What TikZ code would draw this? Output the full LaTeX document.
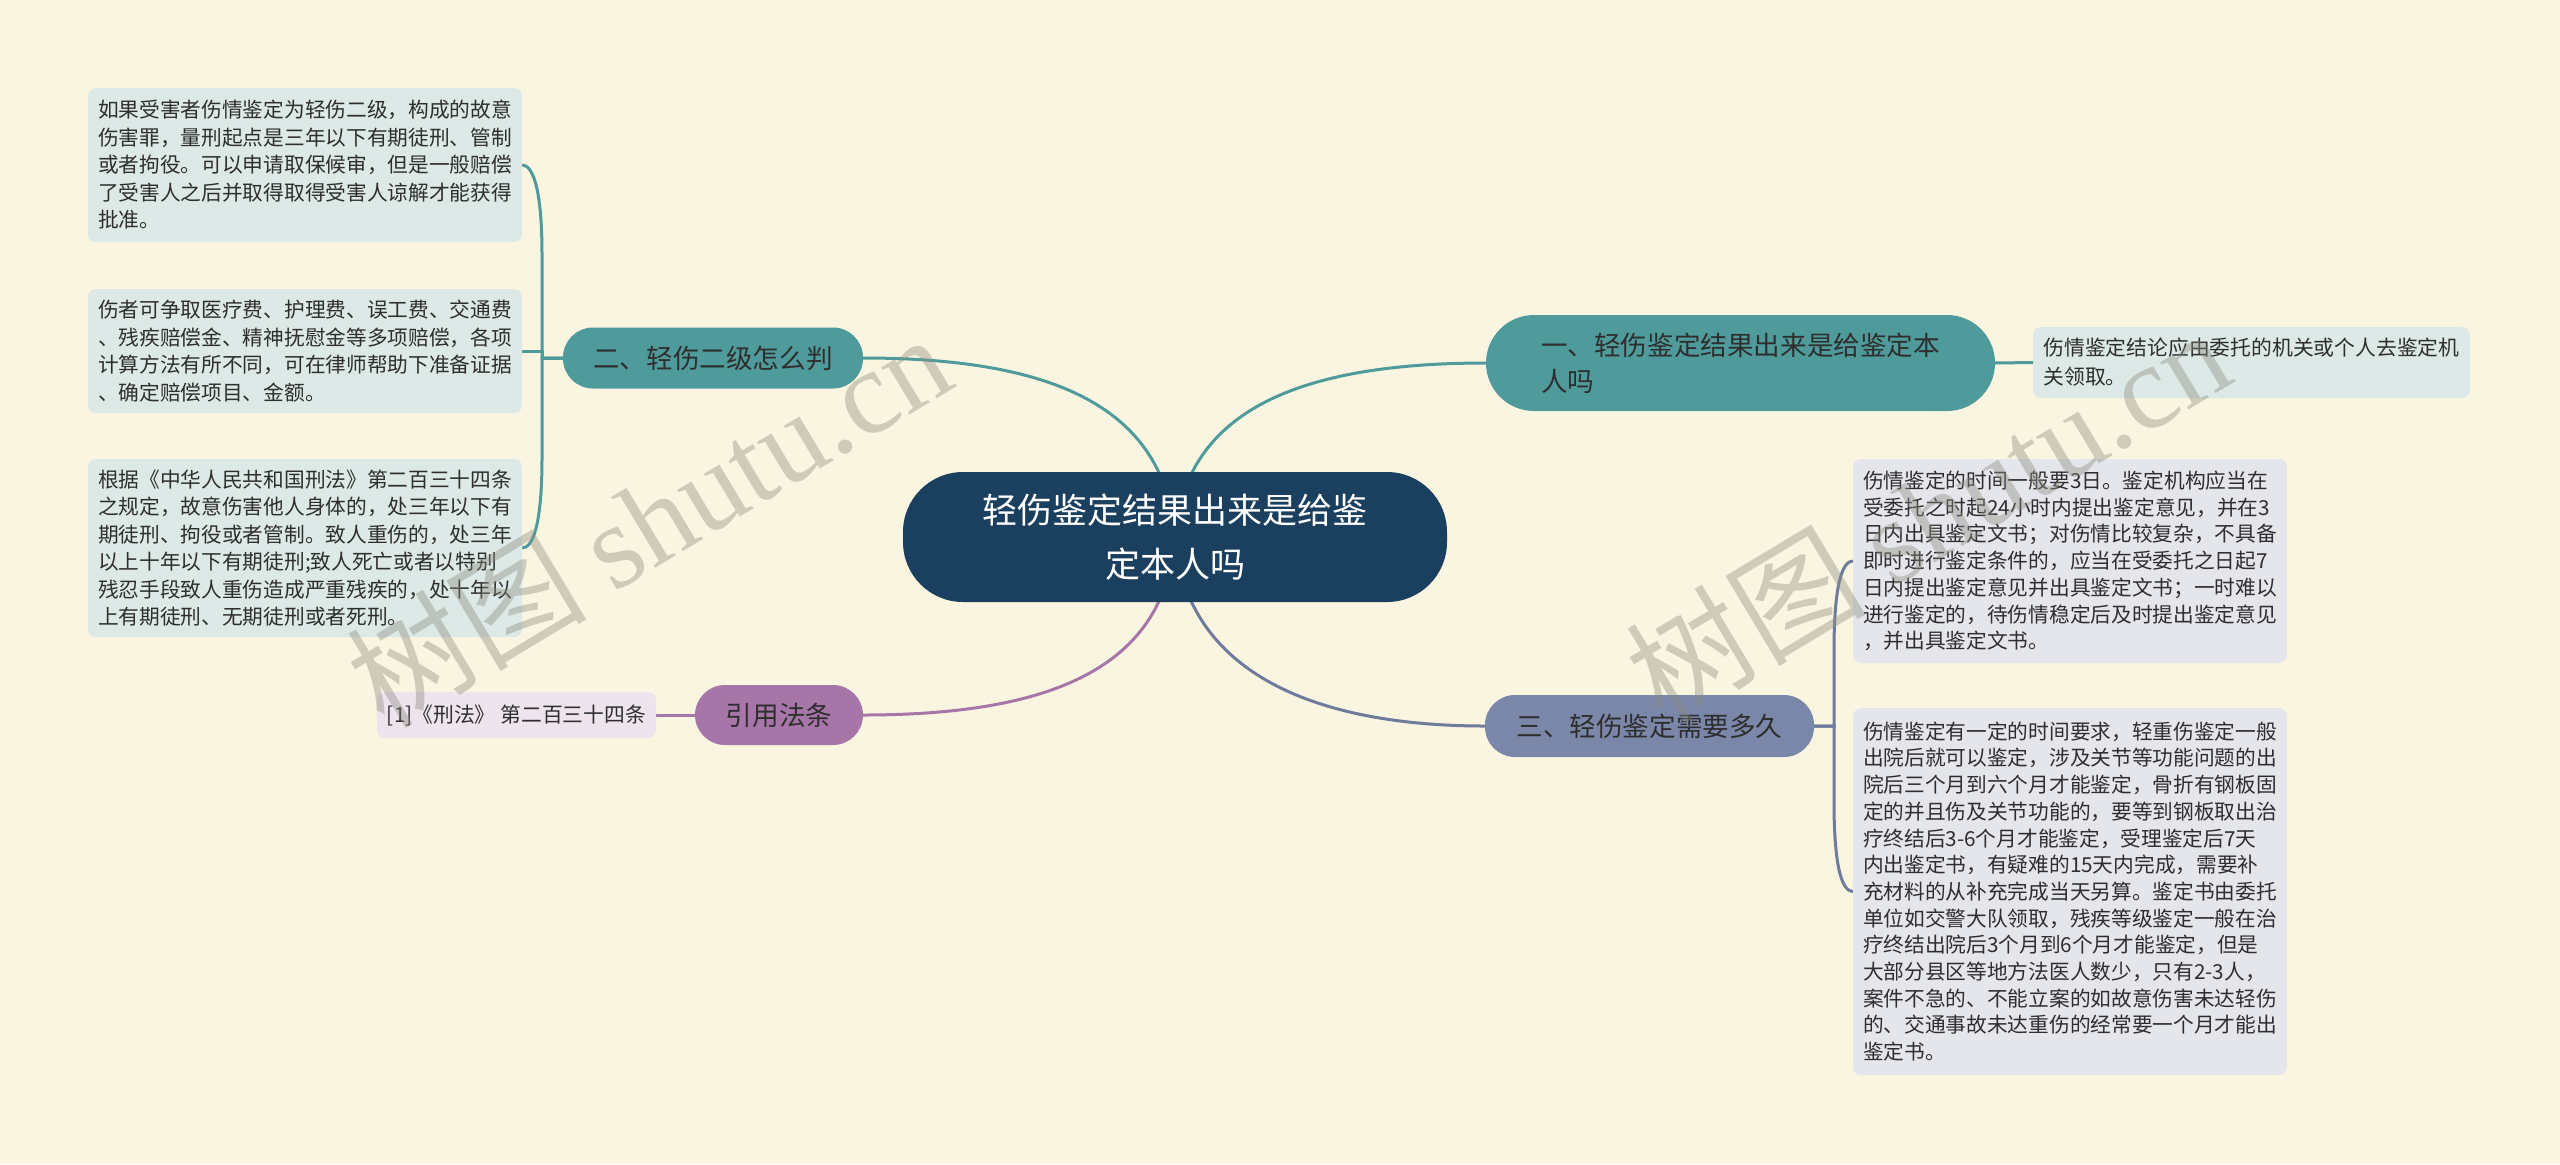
\documentclass[tikz,border=0pt]{standalone}
\usepackage{fontspec}
\setmainfont{Noto Sans CJK SC}
\newfontfamily\wmlatin{Liberation Serif}
\usetikzlibrary{calc}
\definecolor{bgc}{HTML}{FAF5E1}
\definecolor{cnavy}{HTML}{1B3F5E}
\definecolor{cteal}{HTML}{4F9B9B}
\definecolor{cslate}{HTML}{7A87A8}
\definecolor{eslate}{HTML}{6E7B9B}
\definecolor{cpurple}{HTML}{A776A8}
\definecolor{lteal}{HTML}{DCE9E6}
\definecolor{lslate}{HTML}{E4E6EC}
\definecolor{lpurple}{HTML}{EEE4EE}
\definecolor{txtdark}{HTML}{2E2E2E}
\definecolor{wmgray}{HTML}{8C8C80}
\pgfdeclarelayer{bg}
\pgfsetlayers{bg,main}
\begin{document}
\begin{tikzpicture}[x=0.5pt,y=-0.5pt,
  every node/.style={inner sep=0pt, outer sep=0pt},
  leafbox/.style={rounded corners=4pt, inner xsep=5pt, inner ysep=0pt, text width=207pt, align=left, text=txtdark, font=\fontsize{10.35pt}{13.75pt}\selectfont},
  leafteal/.style={leafbox, fill=lteal},
  leafslate/.style={leafbox, fill=lslate, font=\fontsize{10.35pt}{13.35pt}\selectfont},
  branchbox/.style={rounded corners=15pt, text=txtdark, align=left, font=\fontsize{13.3pt}{18pt}\selectfont},
  centerbox/.style={fill=cnavy, rounded corners=30pt, text=white, align=center, font=\fontsize{17.5pt}{27pt}\selectfont},
  tealline/.style={draw=cteal, line width=1.5pt},
  slateline/.style={draw=eslate, line width=1.5pt},
  purpleline/.style={draw=cpurple, line width=1.5pt},
  wm/.style={text=wmgray, opacity=0.4, font=\fontsize{60pt}{60pt}\selectfont, rotate=31}
]
\useasboundingbox (0,0) rectangle (2560,1164);

% central node
\node[centerbox, minimum width=272pt, minimum height=65pt] (c) at (1175,537) {轻伤鉴定结果出来是给鉴\\定本人吗};
\coordinate (hub) at (1175,537);

% branch nodes
\node[branchbox, fill=cteal, minimum width=254.5pt, minimum height=48pt, rounded corners=24pt] (b1) at (1740.5,363) {一、轻伤鉴定结果出来是给鉴定本\\人吗};
\node[branchbox, fill=cteal, minimum width=150pt, minimum height=30.5pt] (b2) at (713,358) {二、轻伤二级怎么判};
\node[branchbox, fill=cpurple, minimum width=84pt, minimum height=30pt] (b3) at (779,715) {引用法条};
\node[branchbox, fill=cslate, minimum width=164.5pt, minimum height=31pt] (b4) at (1649.5,726) {三、轻伤鉴定需要多久};

% leaves of branch 1
\node[leafteal, minimum height=35.5pt, text width=208pt, inner xsep=5.25pt, font=\fontsize{10.4pt}{14.5pt}\selectfont] (r1) at (2251.5,362.5) {伤情鉴定结论应由委托的机关或个人去鉴定机\\关领取。};

% leaves of branch 2
\node[leafteal, minimum height=77pt] (L1) at (305,165) {如果受害者伤情鉴定为轻伤二级，构成的故意\\伤害罪，量刑起点是三年以下有期徒刑、管制\\或者拘役。可以申请取保候审，但是一般赔偿\\了受害人之后并取得取得受害人谅解才能获得\\批准。};
\node[leafteal, minimum height=62pt] (L2) at (305,351) {伤者可争取医疗费、护理费、误工费、交通费\\、残疾赔偿金、精神抚慰金等多项赔偿，各项\\计算方法有所不同，可在律师帮助下准备证据\\、确定赔偿项目、金额。};
\node[leafteal, minimum height=89pt] (L3) at (305,548) {根据《中华人民共和国刑法》第二百三十四条\\之规定，故意伤害他人身体的，处三年以下有\\期徒刑、拘役或者管制。致人重伤的，处三年\\以上十年以下有期徒刑;致人死亡或者以特别\\残忍手段致人重伤造成严重残疾的，处十年以\\上有期徒刑、无期徒刑或者死刑。};

% leaf of branch 3
\node[rounded corners=4pt, fill=lpurple, text=txtdark, minimum width=139.5pt, minimum height=23pt, font=\fontsize{10.4pt}{13pt}\selectfont] (p1) at (516.5,715) {[1]《刑法》 第二百三十四条};

% leaves of branch 4
\node[leafslate, minimum height=102pt] (RA) at (2070,561) {伤情鉴定的时间一般要3日。鉴定机构应当在\\受委托之时起24小时内提出鉴定意见，并在3\\日内出具鉴定文书；对伤情比较复杂，不具备\\即时进行鉴定条件的，应当在受委托之日起7\\日内提出鉴定意见并出具鉴定文书；一时难以\\进行鉴定的，待伤情稳定后及时提出鉴定意见\\，并出具鉴定文书。};
\node[leafslate, minimum height=183.5pt] (RB) at (2070,891.5) {伤情鉴定有一定的时间要求，轻重伤鉴定一般\\出院后就可以鉴定，涉及关节等功能问题的出\\院后三个月到六个月才能鉴定，骨折有钢板固\\定的并且伤及关节功能的，要等到钢板取出治\\疗终结后3-6个月才能鉴定，受理鉴定后7天\\内出鉴定书，有疑难的15天内完成，需要补\\充材料的从补充完成当天另算。鉴定书由委托\\单位如交警大队领取，残疾等级鉴定一般在治\\疗终结出院后3个月到6个月才能鉴定，但是\\大部分县区等地方法医人数少，只有2-3人，\\案件不急的、不能立案的如故意伤害未达轻伤\\的、交通事故未达重伤的经常要一个月才能出\\鉴定书。};

\begin{pgfonlayer}{bg}
  \fill[bgc] (0,0) rectangle (2560,1164);
  % center to branches
  \draw[tealline] (b1.west) .. controls ($(b1.west)+(-180,0)$) and ($(hub)+(10,-130)$) .. (hub);
  \draw[tealline] (b2.east) .. controls ($(b2.east)+(190,0)$) and ($(hub)+(-10,-130)$) .. (hub);
  \draw[purpleline] (b3.east) .. controls ($(b3.east)+(190,0)$) and ($(hub)+(-10,130)$) .. (hub);
  \draw[slateline] (b4.west) .. controls ($(b4.west)+(-180,0)$) and ($(hub)+(10,130)$) .. (hub);
  % branch 1 leaf
  \draw[tealline] (b1.east) -- (r1.west);
  % branch 2 leaves
  \draw[tealline] (b2.west) -| ($(L1.east)+(20,90)$) .. controls ($(L1.east)+(20,20)$) and ($(L1.east)+(10,0)$) .. (L1.east);
  \draw[tealline] (b2.west) -| ($(L3.east)+(20,-90)$) .. controls ($(L3.east)+(20,-20)$) and ($(L3.east)+(10,0)$) .. (L3.east);
  \draw[tealline] (b2.west) -| ($(L2.east)+(20,0)$) -- (L2.east);
  % branch 3 leaf
  \draw[purpleline] (b3.west) -- (p1.east);
  % branch 4 leaves
  \draw[slateline] (b4.east) -| ($(RA.west)+(-19,90)$) .. controls ($(RA.west)+(-19,20)$) and ($(RA.west)+(-10,0)$) .. (RA.west);
  \draw[slateline] (b4.east) -| ($(RB.west)+(-19,-90)$) .. controls ($(RB.west)+(-19,-20)$) and ($(RB.west)+(-10,0)$) .. (RB.west);
\end{pgfonlayer}

% watermarks
\node[wm] (wm1) at (648,519) {树图 {\wmlatin shutu.cn}};
\node[wm] (wm2) at (1927,514) {树图 {\wmlatin shutu.cn}};
\end{tikzpicture}
\end{document}
